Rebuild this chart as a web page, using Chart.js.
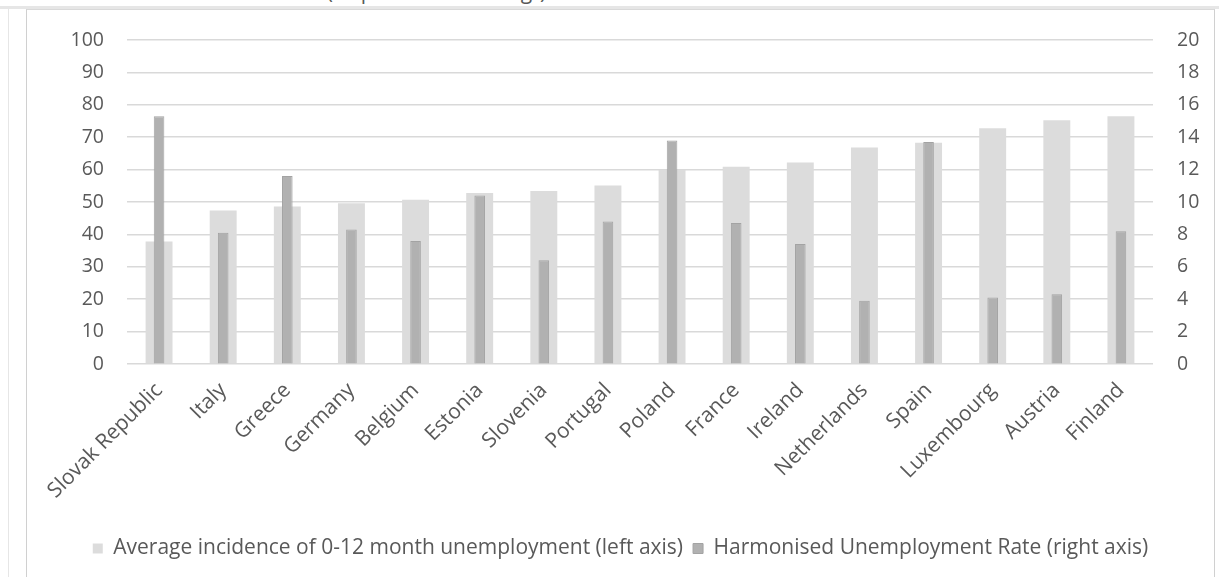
<!DOCTYPE html>
<html>
<head>
<meta charset="utf-8">
<script src="https://cdn.jsdelivr.net/npm/chart.js@4.4.1/dist/chart.umd.min.js"></script>
<style>
  html, body { margin: 0; padding: 0; background: #fff; }
  body { width: 1219px; height: 577px; position: relative; overflow: hidden; font-family: "Open Sans", sans-serif; }
  #src { position: absolute; left: 2px; top: -23px; font-size: 21px; color: #595959; white-space: nowrap; }
  #band { position: absolute; left: 0; top: 6px; width: 1219px; height: 3px; background: #e6e6e6; }
  #outer { position: absolute; left: 8px; top: 9px; width: 1px; height: 568px; background: #e6e6e6; }
  #frame { position: absolute; left: 26px; top: 9px; width: 1189px; height: 568px; border-left: 1px solid #d0d0d0; border-right: 1px solid #d0d0d0; border-top: 1px solid #d9d9d9; box-sizing: border-box; }
  #wrap { position: absolute; left: 26px; top: 10px; width: 1189px; height: 567px; }
</style>
</head>
<body>
<div id="src">Sources: Eurostat and OECD.Stat (http://stats.oecd.org/)</div>
<div id="band"></div>
<div id="outer"></div>
<div id="frame"></div>
<div id="wrap"><canvas id="chart"></canvas></div>
<script>
const countries = [
  "Slovak Republic", "Italy", "Greece", "Germany", "Belgium", "Estonia",
  "Slovenia", "Portugal", "Poland", "France", "Ireland", "Netherlands",
  "Spain", "Luxembourg", "Austria", "Finland"
];
// left axis, %
const incidence = [37.8, 47.4, 48.6, 49.6, 50.7, 52.8, 53.4, 55.1, 59.9, 60.9, 62.2, 66.8, 68.3, 72.8, 75.2, 76.5];
// right axis, %
const unemployment = [15.3, 8.1, 11.6, 8.3, 7.6, 10.4, 6.4, 8.8, 13.8, 8.7, 7.4, 3.9, 13.7, 4.1, 4.3, 8.2];

const leftTicks = [0, 10, 20, 30, 40, 50, 60, 70, 80, 90, 100];
const rightTicks = [0, 2, 4, 6, 8, 10, 12, 14, 16, 18, 20];

const textColor = "#595959";
const gridColor = "#d9d9d9";
const axisFont = { family: "'Open Sans', sans-serif", size: 19.5 };
const labelFont = { family: "'Open Sans', sans-serif", size: 21 };

const ctx = document.getElementById("chart").getContext("2d");
new Chart(ctx, {
  type: "bar",
  data: {
    labels: countries,
    datasets: [
      {
        label: "Average incidence of 0-12 month unemployment (left axis)",
        data: incidence,
        yAxisID: "y",
        backgroundColor: "#dcdcdc",
        borderWidth: 0,
        grouped: false,
        order: 1,
        categoryPercentage: 1,
        barPercentage: 0.42,
      },
      {
        label: "Harmonised Unemployment Rate (right axis)",
        data: unemployment,
        yAxisID: "y1",
        backgroundColor: "#b1b1b1",
        borderColor: "#a3a3a3",
        borderWidth: 1,
        grouped: false,
        order: 0,
        categoryPercentage: 1,
        barPercentage: 0.165,
      },
    ],
  },
  options: {
    responsive: true,
    maintainAspectRatio: false,
    animation: false,
    layout: { padding: { top: 30, left: 0, right: 0, bottom: 8 } },
    plugins: {
      tooltip: { enabled: false },
      legend: {
        position: "bottom",
        labels: {
          color: textColor,
          font: labelFont,
          boxWidth: 10,
          boxHeight: 10,
          padding: 10,
          sort: (a, b) => a.datasetIndex - b.datasetIndex,
        },
      },
    },
    scales: {
      x: {
        grid: { display: false, drawTicks: false },
        border: { display: false },
        ticks: { color: textColor, font: labelFont, minRotation: 45, maxRotation: 45, autoSkip: false, padding: 14 },
        afterFit: (s) => { s.height = 164; },
      },
      y: {
        position: "left",
        min: 0,
        max: 100,
        afterBuildTicks: (s) => { s.ticks = leftTicks.map((v) => ({ value: v })); },
        // tick marks kept invisible; their length gives the gap to the labels
        grid: { color: gridColor, lineWidth: 1.5, drawTicks: true, tickLength: 23, tickColor: "rgba(0,0,0,0)" },
        border: { display: false },
        ticks: { color: textColor, font: axisFont, padding: 0 },
        afterFit: (s) => { s.width = 101; },
      },
      y1: {
        position: "right",
        min: 0,
        max: 20,
        afterBuildTicks: (s) => { s.ticks = rightTicks.map((v) => ({ value: v })); },
        grid: { drawOnChartArea: false, drawTicks: true, tickLength: 24, tickColor: "rgba(0,0,0,0)" },
        border: { display: false },
        ticks: { color: textColor, font: axisFont, padding: 0 },
        afterFit: (s) => { s.width = 62; },
      },
    },
  },
});
</script>
</body>
</html>
